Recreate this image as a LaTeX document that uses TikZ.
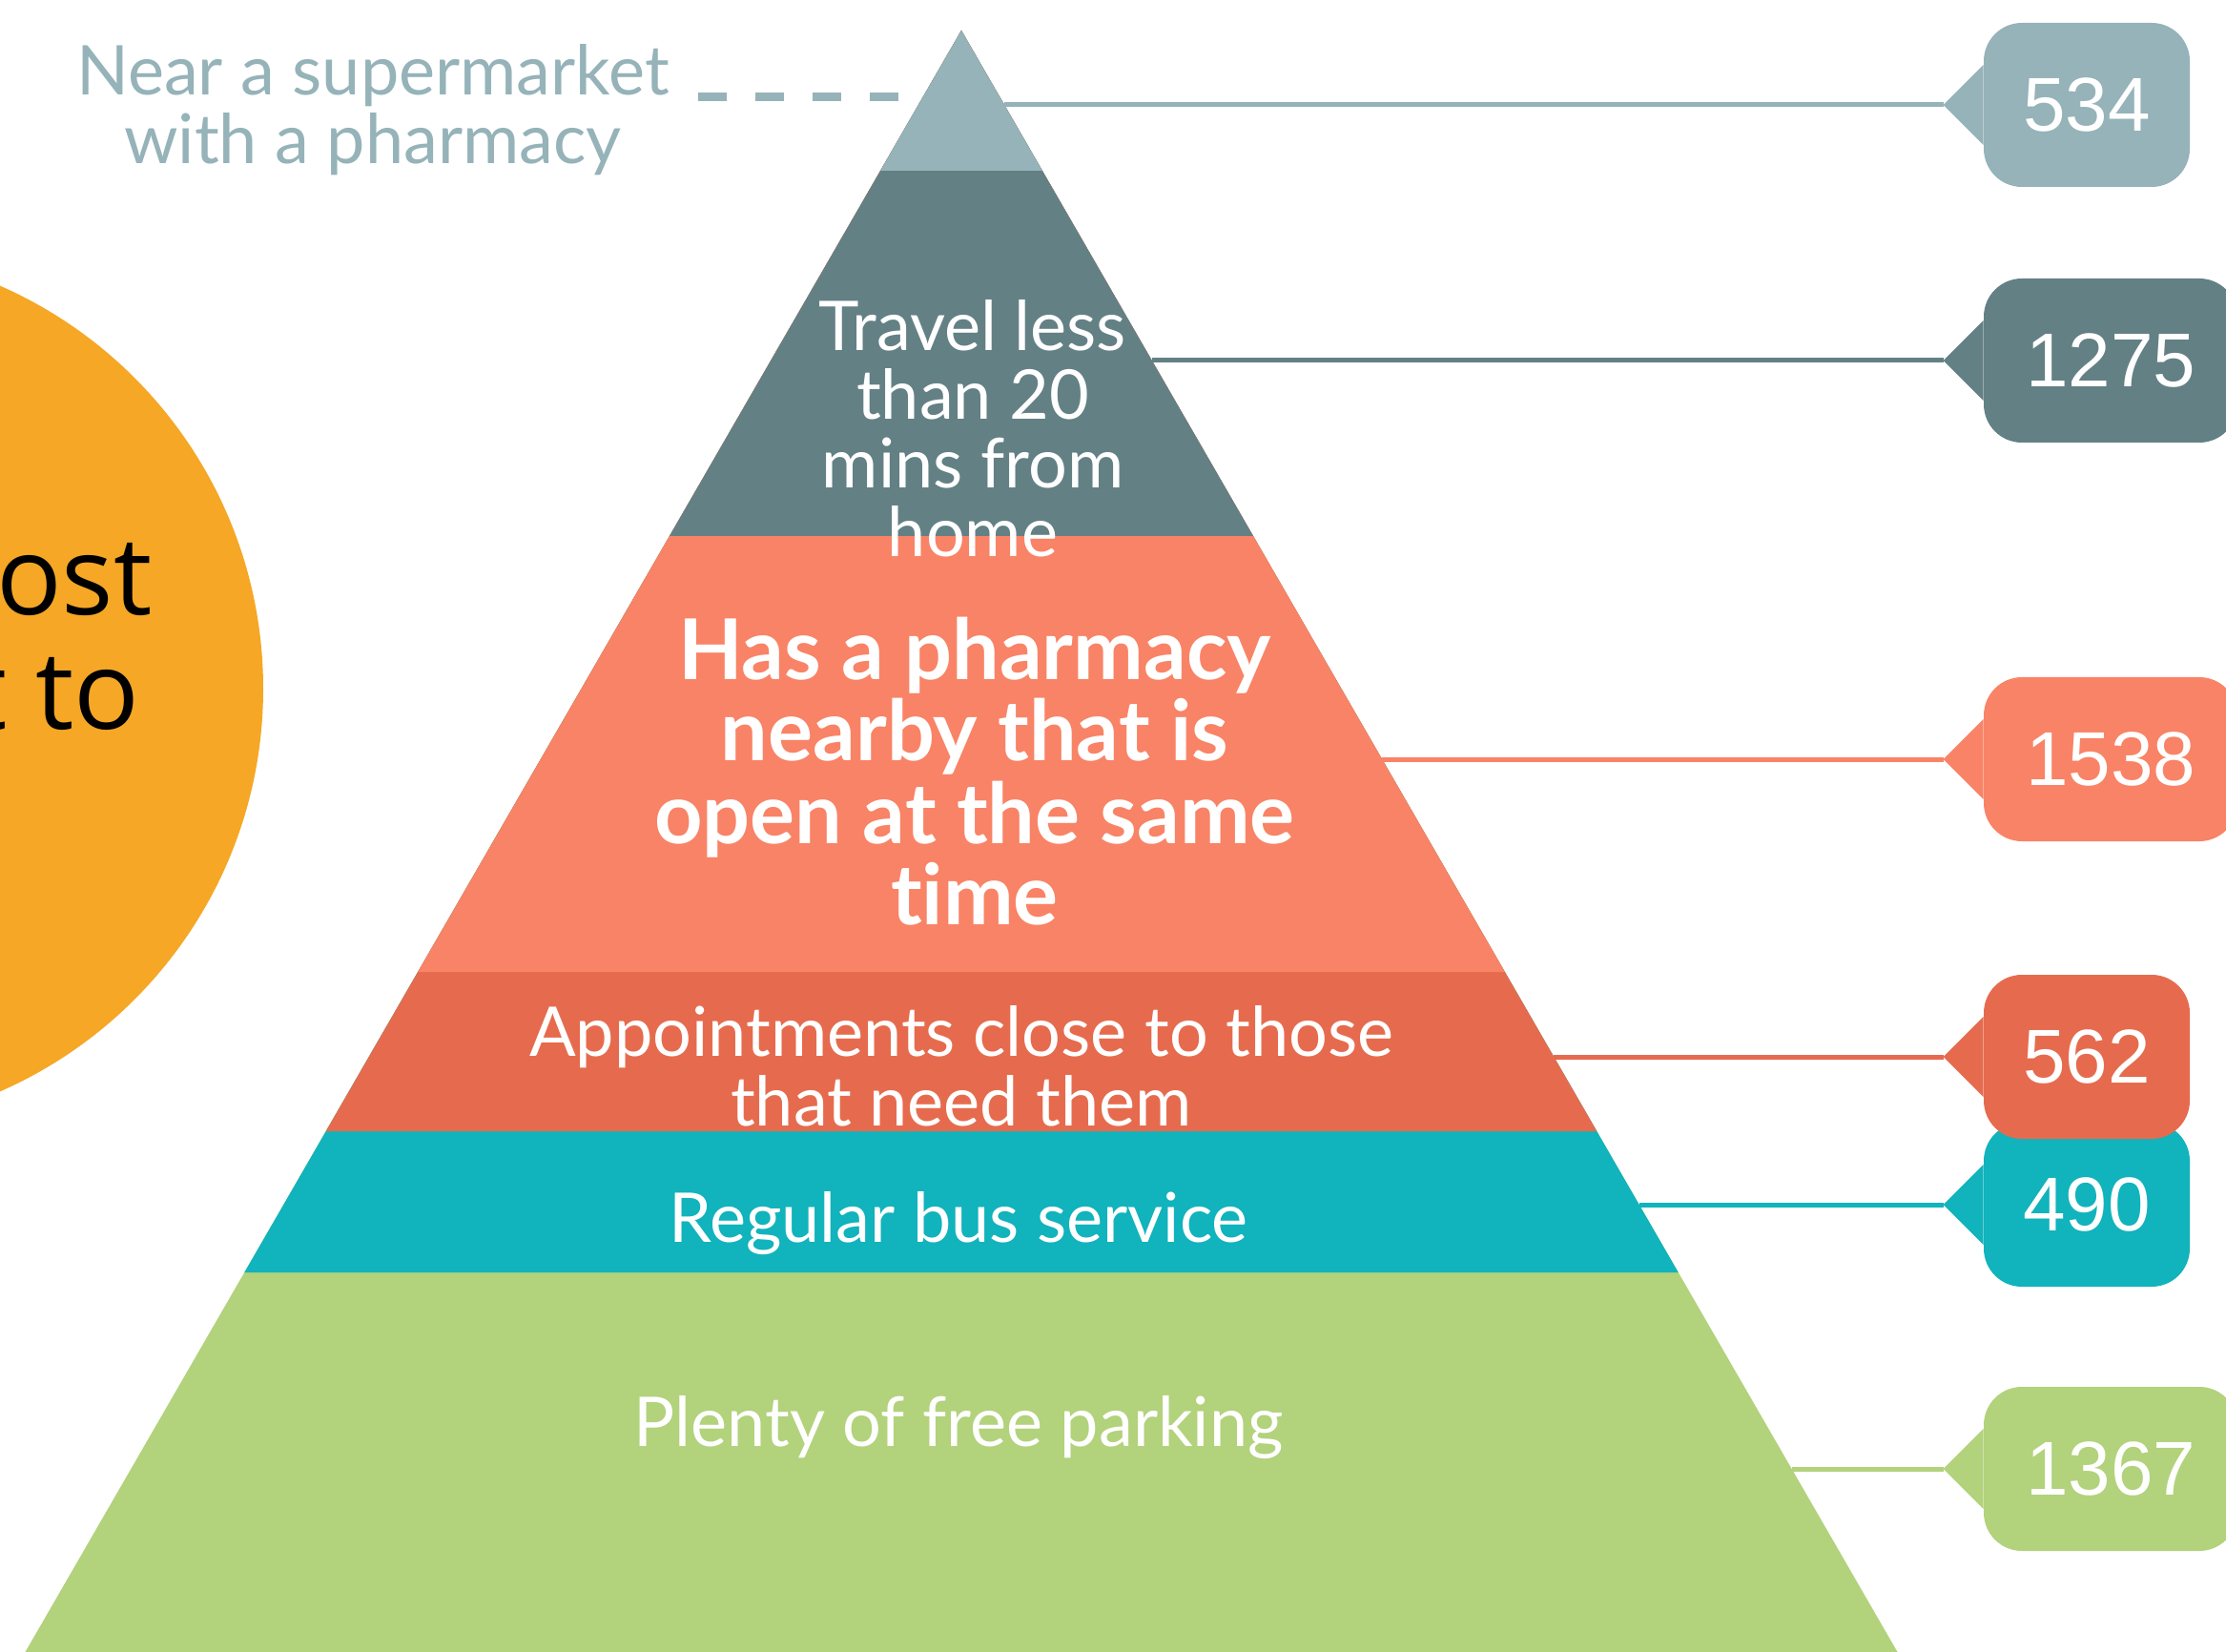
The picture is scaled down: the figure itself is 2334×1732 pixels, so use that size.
\documentclass[tikz,border=0pt]{standalone}
\usepackage{fontspec}
\setmainfont{Lato}[Ligatures=NoCommon]
\newfontfamily\numfont{Liberation Sans}
\newfontfamily\circfont{Open Sans}
\usetikzlibrary{calc}
\definecolor{cTop}{RGB}{149,179,184}
\definecolor{cSlate}{RGB}{99,128,133}
\definecolor{cSalmon}{RGB}{249,131,102}
\definecolor{cCoral}{RGB}{230,107,78}
\definecolor{cTeal}{RGB}{17,179,188}
\definecolor{cGreen}{RGB}{178,210,124}
\definecolor{cOrange}{RGB}{245,167,37}
\tikzset{
  bandtext/.style={anchor=base, inner sep=0pt, text=white, font=\fontsize{36}{36}\selectfont},
  numbox/.style={rounded corners=20pt, inner sep=0pt, minimum height=86pt, text=white,
    font=\numfont\fontsize{40}{40}\selectfont},
  lead/.style={line width=2.5pt},
}
\newcommand\ctext[1]{\parbox[t]{600pt}{\centering #1}}
\begin{document}
\begin{tikzpicture}[x=0.5pt,y=-0.5pt]
\useasboundingbox (0,0) rectangle (2334,1732);
\clip (0,0) rectangle (2334,1732);

% orange circle
\node[circle, fill=cOrange, minimum size=461pt, inner sep=0pt] (circ) at (-185,722) {};
\node[anchor=base east, inner sep=0pt, font=\circfont\fontsize{57}{57}\selectfont] (c1) at (160,645) {ost};
\node[anchor=base east, inner sep=0pt, font=\circfont\fontsize{57}{57}\selectfont] (c2) at (147,764) {t to};

% pyramid (nested triangles, largest first)
\coordinate (apex) at (1008,32);
\fill[cGreen]  (apex) -- (1989.5,1732) -- (26.5,1732) -- cycle;
\fill[cTeal]   (apex) -- (1759.7,1334) -- (256.3,1334) -- cycle;
\fill[cCoral]  (apex) -- (1674.3,1186) -- (341.7,1186) -- cycle;
\fill[cSalmon] (apex) -- (1577.8,1019) -- (438.2,1019) -- cycle;
\fill[cSlate]  (apex) -- (1314,562) -- (702,562) -- cycle;
\fill[cTop]    (apex) -- (1092.9,179) -- (923.1,179) -- cycle;

% top label with dashes
\node[bandtext, text=cTop] (near) at (391,100) {\ctext{Near a supermarket\\with a pharmacy}};
\coordinate (d1) at (732,102);
\coordinate (d2) at (942,102);
\draw[cTop, line width=4.5pt, dash pattern=on 15pt off 15pt] (d1) -- (d2);

% band texts
\node[bandtext] (t2) at (1020,368) {\ctext{Travel less\\than 20\\mins from\\home}};
\node[bandtext, font=\bfseries\fontsize{44}{43}\selectfont] (t3) at (1022,712) {\ctext{Has a pharmacy\\nearby that is\\open at the same\\time}};
\node[bandtext, font=\fontsize{36}{36.5}\selectfont] (t4) at (1008,1107) {\ctext{Appointments close to those\\that need them}};
\node[bandtext] (t5) at (1005,1302) {Regular bus service};
\node[bandtext] (t6) at (1005,1516) {Plenty of free parking};

% edge points
\coordinate (e534) at (1053,110);
\coordinate (e1275) at (1207.8,378);
\coordinate (e1538) at (1449.1,796);
\coordinate (e562) at (1629.2,1108);
\coordinate (e490) at (1718.7,1263);
\coordinate (e1367) at (1878.7,1540);

% callouts
\node[numbox, fill=cTop, minimum width=108pt] (b534) at (2188,110) {534};
\node[numbox, fill=cSlate, minimum width=133pt] (b1275) at (2213,378) {1275};
\node[numbox, fill=cSalmon, minimum width=133pt] (b1538) at (2213,796) {1538};
\node[numbox, fill=cTeal, minimum width=108pt] (b490) at (2188,1263) {490};
\node[numbox, fill=cGreen, minimum width=133pt] (b1367) at (2213,1540) {1367};

\foreach \n/\c in {534/cTop,1275/cSlate,1538/cSalmon,490/cTeal,1367/cGreen}{
  \fill[\c] ($(b\n.west)+(0,-42)$) -- ($(b\n.west)+(-42,0)$) coordinate (p\n) -- ($(b\n.west)+(0,42)$) -- cycle;
  \draw[lead, \c] (e\n) -- (p\n);
}
% 562 on top of 490
\node[numbox, fill=cCoral, minimum width=108pt] (b562) at (2188,1108) {562};
\fill[cCoral] ($(b562.west)+(0,-42)$) -- ($(b562.west)+(-42,0)$) coordinate (p562) -- ($(b562.west)+(0,42)$) -- cycle;
\draw[lead, cCoral] (e562) -- (p562);
\end{tikzpicture}
\end{document}
